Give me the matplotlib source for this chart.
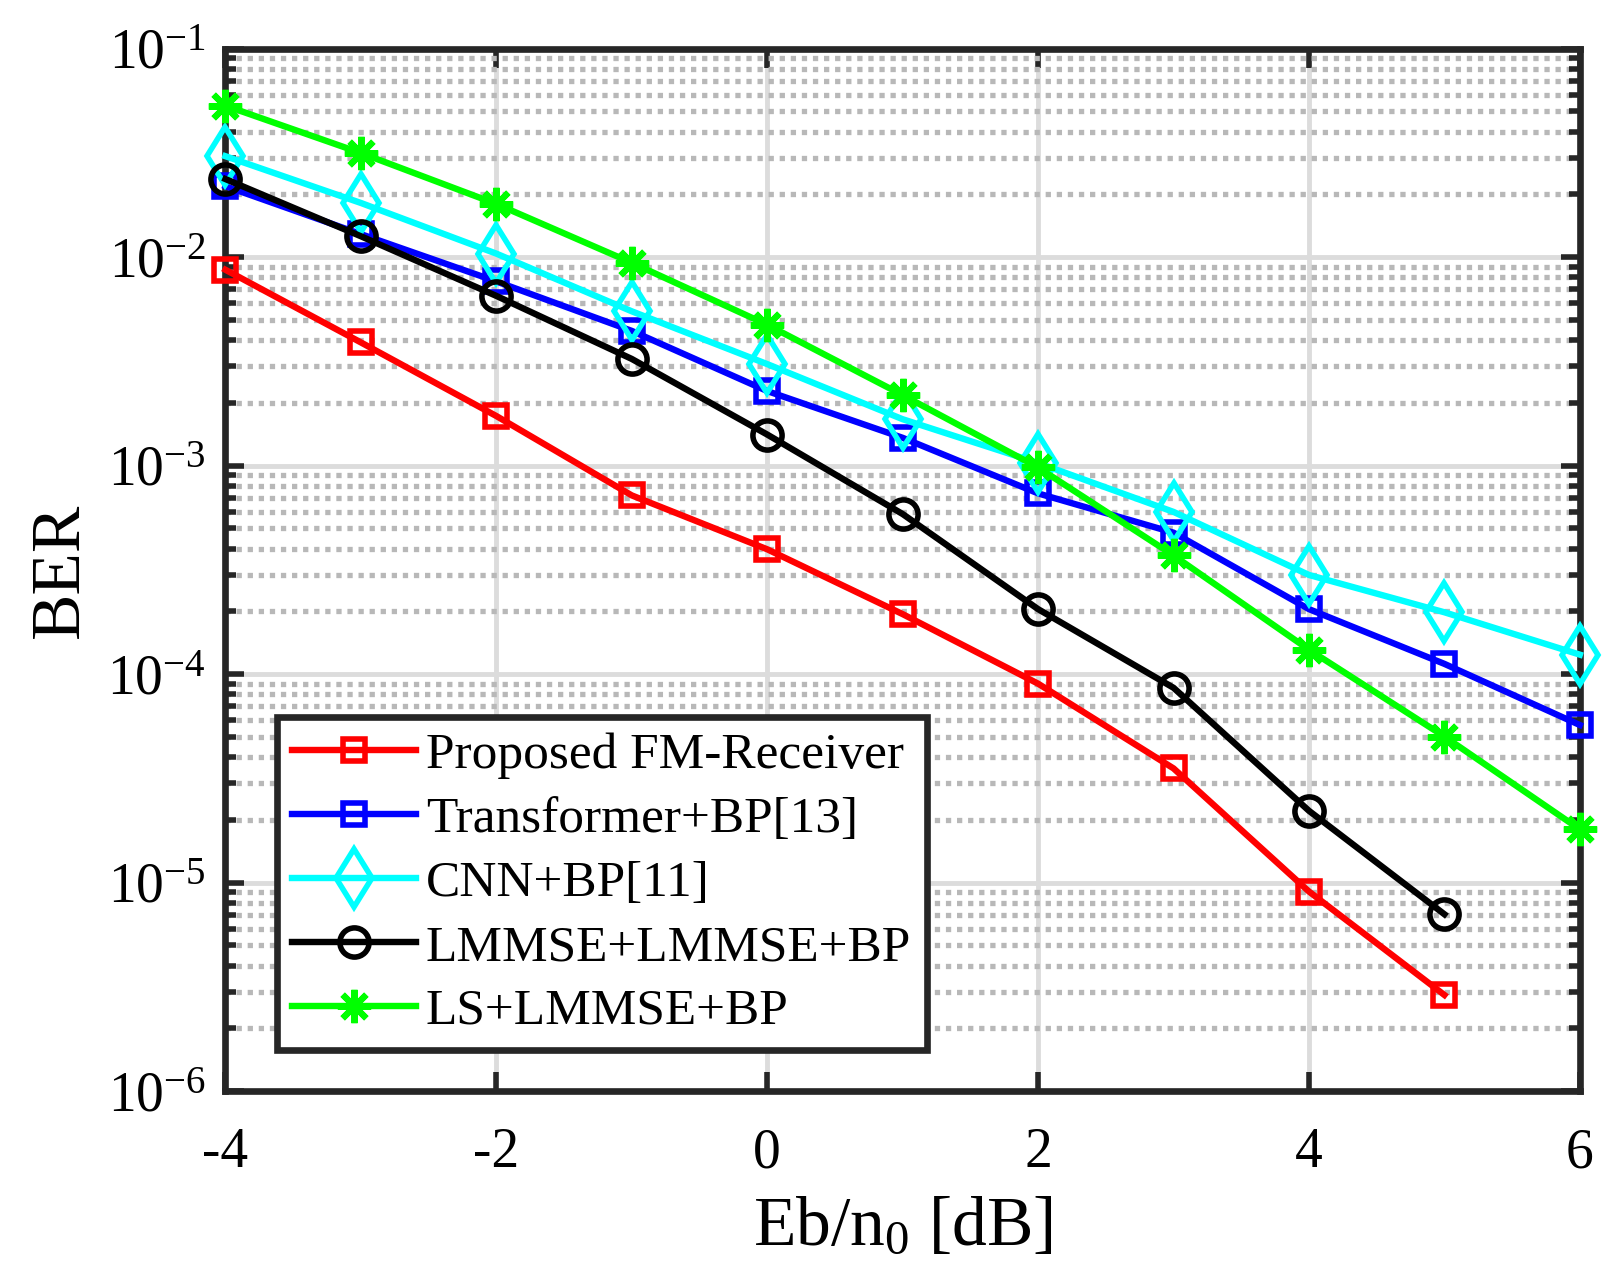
import numpy as np
import matplotlib
matplotlib.use('Agg')
import matplotlib.pyplot as plt
from matplotlib.ticker import LogLocator, NullFormatter

plt.rcParams['font.family'] = ['Liberation Serif', 'DejaVu Serif']
plt.rcParams['mathtext.fontset'] = 'custom'
plt.rcParams['mathtext.rm'] = 'Liberation Serif'
plt.rcParams['mathtext.it'] = 'Liberation Serif:italic'

snr = [-4, -3, -2, -1, 0, 1, 2, 3, 4, 5, 6]

ber_prop = [8.7e-3, 3.9e-3, 1.73e-3, 7.2e-4, 3.97e-4, 1.94e-4, 9.0e-5, 3.53e-5, 9.06e-6, 2.89e-6]
ber_trans = [2.19e-2, 1.29e-2, 7.65e-3, 4.43e-3, 2.28e-3, 1.36e-3, 7.36e-4, 4.77e-4, 2.05e-4, 1.12e-4, 5.7e-5]
ber_cnn = [3.05e-2, 1.82e-2, 1.04e-2, 5.5e-3, 3.07e-3, 1.67e-3, 1.03e-3, 6.0e-4, 2.99e-4, 1.98e-4, 1.24e-4]
ber_lmmse = [2.37e-2, 1.26e-2, 6.52e-3, 3.25e-3, 1.41e-3, 5.86e-4, 2.05e-4, 8.6e-5, 2.21e-5, 7.05e-6]
ber_ls = [5.33e-2, 3.16e-2, 1.80e-2, 9.4e-3, 4.74e-3, 2.18e-3, 9.8e-4, 3.71e-4, 1.31e-4, 5.02e-5, 1.8e-5]

labels = ['Proposed FM-Receiver', 'Transformer+BP[13]', 'CNN+BP[11]',
          'LMMSE+LMMSE+BP', 'LS+LMMSE+BP']

fig = plt.figure(figsize=(16.22, 12.65), dpi=100)
ax = fig.add_axes([0.139, 0.1375, 0.835, 0.824])

lw = 4.6
ax.semilogy(snr[:len(ber_prop)], ber_prop, '-', color='#ff0000', lw=lw, marker='s',
            ms=16, mfc='none', mew=4, label=labels[0], clip_on=False, zorder=3)
ax.semilogy(snr, ber_trans, '-', color='#0000ff', lw=lw, marker='s',
            ms=16, mfc='none', mew=4, label=labels[1], clip_on=False, zorder=3)
ax.semilogy(snr, ber_cnn, '-', color='#00ffff', lw=lw, marker='d',
            ms=30, mfc='none', mew=4, label=labels[2], clip_on=False, zorder=3)
ax.semilogy(snr[:len(ber_lmmse)], ber_lmmse, '-', color='k', lw=lw, marker='o',
            ms=21, mfc='none', mew=4, label=labels[3], clip_on=False, zorder=3)
ax.semilogy(snr, ber_ls, '-', color='#00ff00', lw=lw, marker=(8, 2, 0),
            ms=24, mew=4.5, label=labels[4], clip_on=False, zorder=3)

ax.set_xlim(-4, 6)
ax.set_ylim(1e-6, 1e-1)
ax.set_xticks([-4, -2, 0, 2, 4, 6])
ax.set_xticklabels(['-4', '-2', '0', '2', '4', '6'])
ax.set_yticks([1e-6, 1e-5, 1e-4, 1e-3, 1e-2, 1e-1])
ax.set_yticklabels([r'$\mathregular{10^{-%d}}$' % k for k in [6, 5, 4, 3, 2, 1]])
ax.yaxis.set_minor_locator(LogLocator(base=10, subs=np.arange(2, 10), numticks=20))
ax.yaxis.set_minor_formatter(NullFormatter())

ax.grid(True, which='major', color='#dcdcdc', lw=3.5, ls='-')
ax.grid(True, which='minor', axis='y', color='#b8b8b8', lw=3.8, ls=(0, (1, 1.1)))
ax.set_axisbelow(True)

ax.tick_params(which='both', direction='in', top=True, right=True, labelsize=40,
               color='#262626', pad=14)
ax.tick_params(axis='x', pad=26)
ax.tick_params(which='major', length=14, width=4)
ax.tick_params(which='minor', length=8, width=4)
for s in ax.spines.values():
    s.set_linewidth(4.8)
    s.set_color('#262626')

ax.set_xlabel(r'Eb/n$_0$ [dB]', fontsize=50, labelpad=12)
ax.set_ylabel('BER', fontsize=50, labelpad=10)

leg = ax.legend(loc='lower left', bbox_to_anchor=(0.038, 0.039), borderaxespad=0,
                fontsize=37, handlelength=2.4, handletextpad=0.2, labelspacing=0.33,
                borderpad=0.3, fancybox=False, framealpha=1, edgecolor='#262626')
leg.get_frame().set_linewidth(4.8)

fig.savefig('out.png', dpi=100)
